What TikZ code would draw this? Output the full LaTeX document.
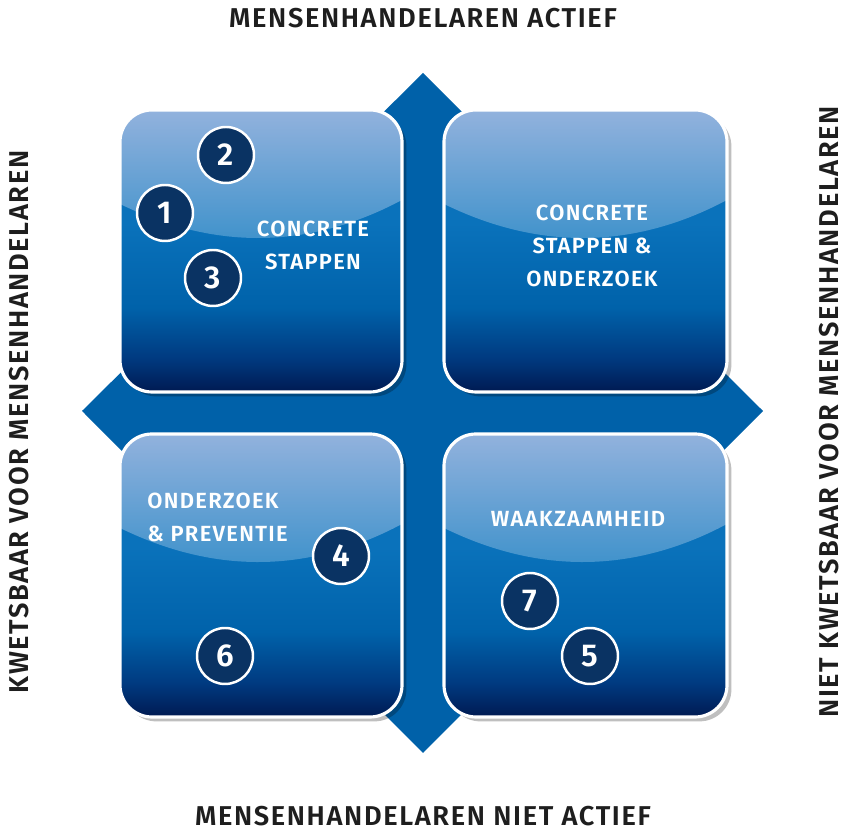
\documentclass[tikz,border=0pt]{standalone}
\usepackage{fontspec}
\setmainfont{Fira Sans}
\newfontfamily\trackedfont{Fira Sans SemiBold}[LetterSpace=6]
\usetikzlibrary{shadows}

\definecolor{crossBlue}{HTML}{0061A9}
\definecolor{glossTop}{HTML}{92B2DD}
\definecolor{glossBot}{HTML}{3A90CA}
\definecolor{baseTop}{HTML}{0A72BB}
\definecolor{baseMid}{HTML}{0062AA}
\definecolor{baseDeep}{HTML}{003A80}
\definecolor{baseBot}{HTML}{001A52}
\definecolor{numFill}{HTML}{0A3363}
\definecolor{labelInk}{HTML}{1E1E1E}

\pgfdeclareverticalshading{quadfill}{100bp}{color(0bp)=(baseBot); color(25bp)=(baseBot); color(31bp)=(baseDeep); color(40bp)=(baseMid); color(55bp)=(baseTop); color(100bp)=(baseTop)}

\tikzset{
  quadbox/.style={shading=quadfill, rounded corners=0.64cm,
    drop shadow={shadow xshift=2.5pt, shadow yshift=-2.5pt, opacity=0.25, fill=black}},
  quadedge/.style={draw=white, line width=1.8pt, rounded corners=0.64cm},
  gloss/.style={top color=glossTop, bottom color=glossBot},
  numdot/.style={circle, fill=numFill, draw=white, line width=1.4pt,
    minimum size=1.12cm, inner sep=0pt, text=white,
    font=\trackedfont\fontsize{18}{18}\selectfont},
  quadtext/.style={text=white, align=center, inner sep=0pt,
    font=\trackedfont\fontsize{12.5}{18.7}\selectfont},
  axistext/.style={text=labelInk, inner sep=0pt,
    font=\trackedfont\fontsize{15.5}{16}\selectfont}
}

\begin{document}
\begin{tikzpicture}[x=0.02cm, y=0.02cm]
  \useasboundingbox (0,0) rectangle (845,831);
  \filldraw[fill=crossBlue, draw=none] (423,758) -- (763,420) -- (423,78) -- (82,420) -- cycle;

  \shade[quadbox] (120,439) rectangle (402,721);
  \begin{scope}
    \clip[rounded corners=0.64cm] (120,439) rectangle (402,721);
    \shade[gloss] (120,721) -- (120,627) .. controls (214,581) and (308,581) .. (402,631) -- (402,721) -- cycle;
  \end{scope}
  \draw[quadedge] (120,439) rectangle (402,721);

  \shade[quadbox] (444,439) rectangle (727,721);
  \begin{scope}
    \clip[rounded corners=0.64cm] (444,439) rectangle (727,721);
    \shade[gloss] (444,721) -- (444,627) .. controls (538,581) and (633,581) .. (727,631) -- (727,721) -- cycle;
  \end{scope}
  \draw[quadedge] (444,439) rectangle (727,721);

  \shade[quadbox] (120,114) rectangle (402,397);
  \begin{scope}
    \clip[rounded corners=0.64cm] (120,114) rectangle (402,397);
    \shade[gloss] (120,397) -- (120,303) .. controls (214,257) and (308,257) .. (402,307) -- (402,397) -- cycle;
  \end{scope}
  \draw[quadedge] (120,114) rectangle (402,397);

  \shade[quadbox] (444,114) rectangle (727,397);
  \begin{scope}
    \clip[rounded corners=0.64cm] (444,114) rectangle (727,397);
    \shade[gloss] (444,397) -- (444,303) .. controls (538,257) and (633,257) .. (727,307) -- (727,397) -- cycle;
  \end{scope}
  \draw[quadedge] (444,114) rectangle (727,397);

  \node[quadtext] (stappen) at (313,586) {CONCRETE\\STAPPEN};
  \node[quadtext] (beide) at (592,585) {CONCRETE\\STAPPEN \&\\ONDERZOEK};
  \node[quadtext, align=left, anchor=west] (preventie) at (147,314) {ONDERZOEK\\\& PREVENTIE};
  \node[quadtext] (waakzaam) at (578,312) {WAAKZAAMHEID};

  \node[numdot] (n1) at (165,618) {1};
  \node[numdot] (n2) at (226,676) {2};
  \node[numdot] (n3) at (213,553) {3};
  \node[numdot] (n4) at (341,275) {4};
  \node[numdot] (n6) at (225,175) {6};
  \node[numdot] (n7) at (530,230) {7};
  \node[numdot] (n5) at (590,175) {5};

  \node[axistext] (actief) at (423,813) {MENSENHANDELAREN ACTIEF};
  \node[axistext] (nietactief) at (423,15) {MENSENHANDELAREN NIET ACTIEF};
  \node[axistext, rotate=90] (kwetsbaar) at (19,409) {KWETSBAAR VOOR MENSENHANDELAREN};
  \node[axistext, rotate=90] (nietkwetsbaar) at (829,419) {NIET KWETSBAAR VOOR MENSENHANDELAREN};
\end{tikzpicture}
\end{document}
